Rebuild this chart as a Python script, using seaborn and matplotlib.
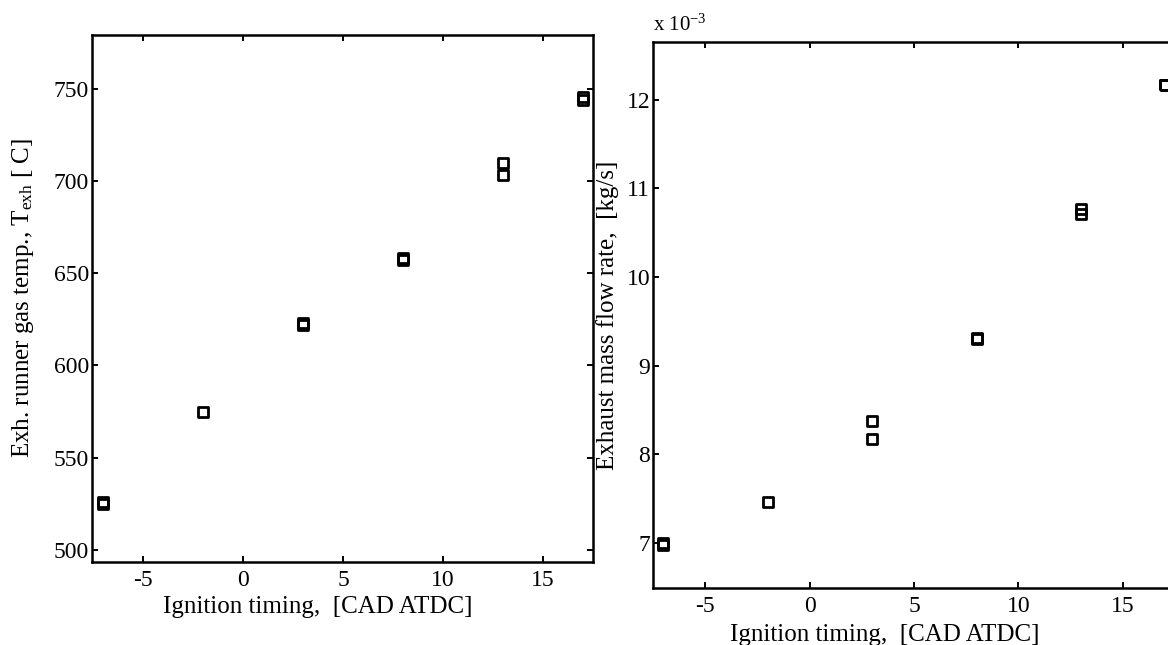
import matplotlib
matplotlib.use("Agg")
import matplotlib.pyplot as plt
import seaborn as sns
import pandas as pd

# ---- data ----
timing_left = [-7, -7, -2, 3, 3, 8, 8, 13, 13, 17, 17]
exh_temp = [525, 526, 575, 622, 623, 657, 658, 709.5, 703, 745.5, 744]

timing_right = [-7, -7, -2, 3, 3, 8, 8, 13, 13, 17, 17]
mass_flow_e3 = [6.98, 7.0, 7.46, 8.37, 8.17, 9.30, 9.31, 10.77, 10.71, 12.16, 12.17]

left_yticks = [500, 550, 600, 650, 700, 750]
right_yticks = [7, 8, 9, 10, 11, 12]
xticks = [-5, 0, 5, 10, 15]

sns.set_theme(style="ticks")
plt.rcParams['font.family'] = ['Liberation Serif', 'DejaVu Serif']
plt.rcParams['mathtext.fontset'] = 'custom'
plt.rcParams['mathtext.rm'] = 'Liberation Serif'
plt.rcParams['mathtext.it'] = 'Liberation Serif:italic'
for k in ('text.color', 'axes.labelcolor', 'xtick.color', 'ytick.color', 'axes.edgecolor'):
    plt.rcParams[k] = 'black'

W, H = 1168, 645
fig = plt.figure(figsize=(W / 100, H / 100), dpi=100)
fig.patch.set_facecolor('white')

axL = fig.add_axes([92 / W, 1 - 562 / H, 501 / W, 527 / H])
axR = fig.add_axes([653 / W, 1 - 588 / H, 522 / W, 546 / H])

dfL = pd.DataFrame({"t": timing_left, "v": exh_temp})
dfR = pd.DataFrame({"t": timing_right, "v": mass_flow_e3})

FS = 18
for ax, df in ((axL, dfL), (axR, dfR)):
    sns.scatterplot(data=df, x="t", y="v", ax=ax, marker='s', s=52,
                    facecolor='none', edgecolor='black', linewidth=2.0,
                    legend=False, zorder=3)
    ax.set_facecolor('white')
    for sp in ax.spines.values():
        sp.set_visible(True)
        sp.set_linewidth(1.8)
        sp.set_color('black')
    ax.tick_params(direction='in', length=4, width=1.4, top=True, right=True,
                   labelsize=17, colors='black')
    ax.set_xticks(xticks)
    ax.set_xticklabels([str(v) for v in xticks])

axL.set_xlim(-7.55, 17.5)
axL.set_ylim(493.5, 779)
axL.set_yticks(left_yticks)
axL.tick_params(axis='x', pad=6)
axL.tick_params(axis='y', pad=2)
axL.set_xlabel("Ignition timing,  [CAD ATDC]", fontsize=FS)
axL.set_ylabel(r"Exh. runner gas temp., T$_{\mathrm{exh}}$ [ C]", fontsize=FS)
axL.xaxis.set_label_coords(0.45, -0.064)
axL.yaxis.set_label_coords(-0.112, 0.5)

axR.set_xlim(-7.5, 17.5)
axR.set_ylim(6.49, 12.65)
axR.set_yticks(right_yticks)
axR.tick_params(axis='x', pad=6)
axR.tick_params(axis='y', pad=2)
axR.set_xlabel("Ignition timing,  [CAD ATDC]", fontsize=FS)
axR.set_ylabel("Exhaust mass flow rate,  [kg/s]", fontsize=FS)
axR.xaxis.set_label_coords(0.444, -0.066)
axR.yaxis.set_label_coords(-0.065, 0.5)
axR.text(0.0, 1.012, r"x 10$^{-3}$", transform=axR.transAxes, fontsize=15,
         ha='left', va='bottom')

fig.savefig("out.png", dpi=100, facecolor='white')
